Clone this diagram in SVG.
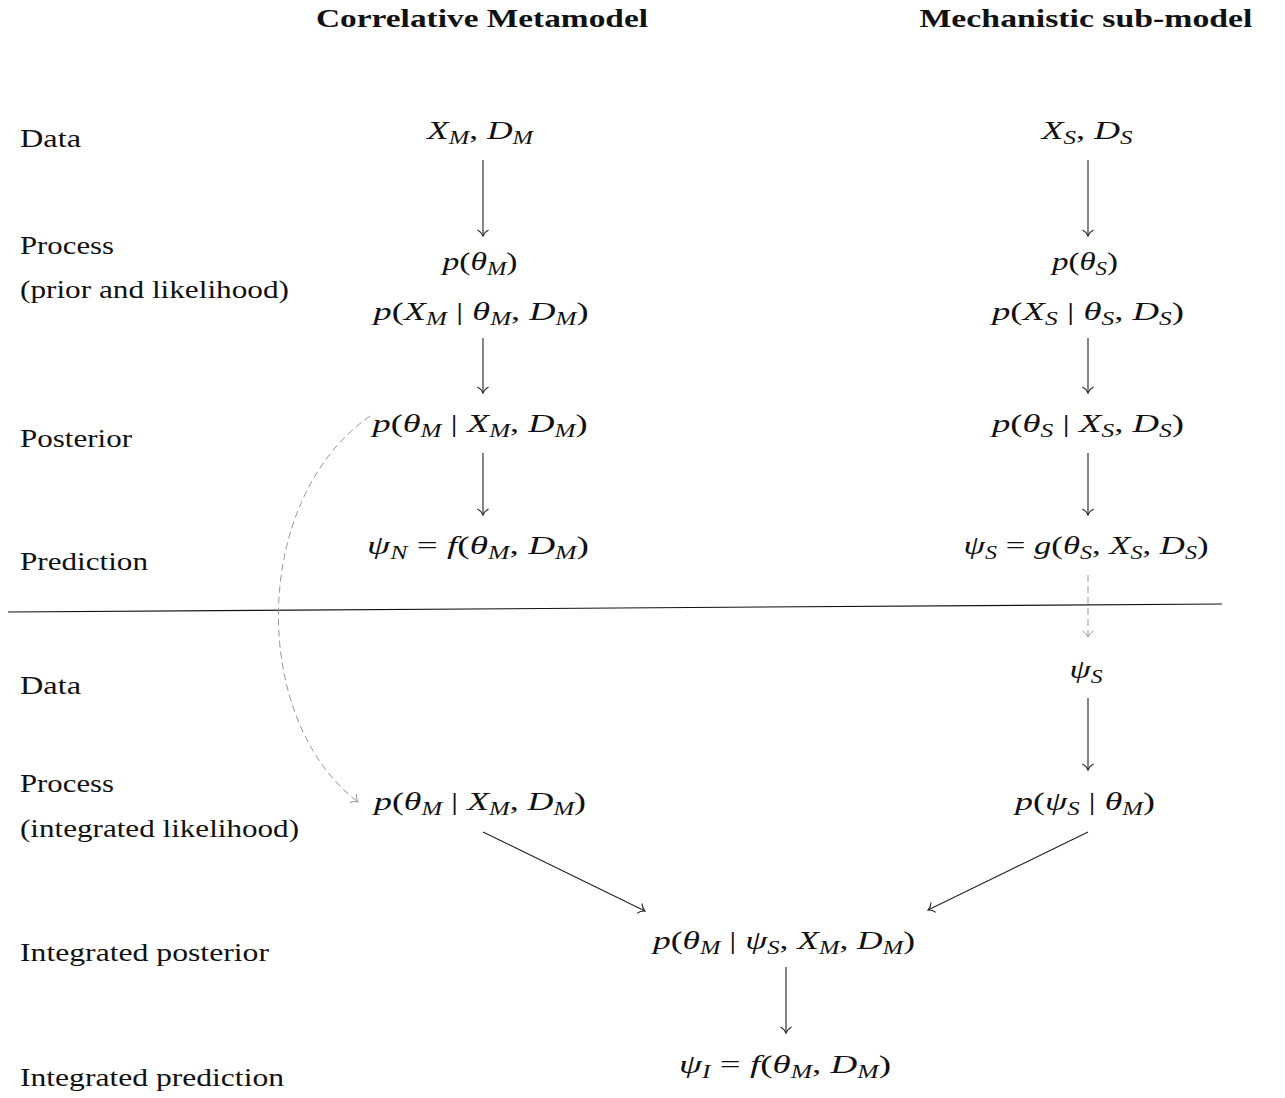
<svg xmlns="http://www.w3.org/2000/svg" width="1285" height="1098" viewBox="0 0 1285 1098">
<style>
text{font-family:"Liberation Serif","DejaVu Serif",serif;fill:#111}
.h{font-size:25px;font-weight:bold}
.lab{font-size:25px}
.m{font-size:26px;font-style:italic}
.u{font-style:normal}
.s{font-size:18px}
.ar{fill:none;stroke:#222;stroke-width:1.1}
.da{fill:none;stroke:#999;stroke-width:1;stroke-dasharray:7 4}
</style>
<defs>
<marker id="to" markerUnits="userSpaceOnUse" orient="auto" refX="0" refY="0" markerWidth="14" markerHeight="14" overflow="visible">
<path d="M -6 -5.5 C -4.5 -2.5 -1.5 -0.6 0 0 C -1.5 0.6 -4.5 2.5 -6 5.5" fill="none" stroke="#222" stroke-width="1.1"/>
</marker>
<marker id="tog" markerUnits="userSpaceOnUse" orient="auto" refX="0" refY="0" markerWidth="14" markerHeight="14" overflow="visible">
<path d="M -6 -5.5 C -4.5 -2.5 -1.5 -0.6 0 0 C -1.5 0.6 -4.5 2.5 -6 5.5" fill="none" stroke="#999" stroke-width="1"/>
</marker>
</defs>

<g id="headers">
<text class="h" x="482" y="27" text-anchor="middle" textLength="332" lengthAdjust="spacingAndGlyphs">Correlative Metamodel</text>
<text class="h" x="1086" y="27" text-anchor="middle" textLength="333" lengthAdjust="spacingAndGlyphs">Mechanistic sub-model</text>
</g>

<g id="row-labels">
<text class="lab" x="20" y="147" textLength="61" lengthAdjust="spacingAndGlyphs">Data</text>
<text class="lab" x="20" y="254" textLength="94" lengthAdjust="spacingAndGlyphs">Process</text>
<text class="lab" x="20" y="298" textLength="269" lengthAdjust="spacingAndGlyphs">(prior and likelihood)</text>
<text class="lab" x="20" y="447" textLength="112" lengthAdjust="spacingAndGlyphs">Posterior</text>
<text class="lab" x="20" y="570" textLength="128" lengthAdjust="spacingAndGlyphs">Prediction</text>
<text class="lab" x="20" y="694" textLength="61" lengthAdjust="spacingAndGlyphs">Data</text>
<text class="lab" x="20" y="792" textLength="94" lengthAdjust="spacingAndGlyphs">Process</text>
<text class="lab" x="20" y="837" textLength="279" lengthAdjust="spacingAndGlyphs">(integrated likelihood)</text>
<text class="lab" x="20" y="961" textLength="249" lengthAdjust="spacingAndGlyphs">Integrated posterior</text>
<text class="lab" x="20" y="1086" textLength="264" lengthAdjust="spacingAndGlyphs">Integrated prediction</text>
</g>

<g id="separator">
<line x1="8" y1="612" x2="1222" y2="604" stroke="#111" stroke-width="1.1"/>
</g>

<g id="n-XM-DM">
<text class="m" x="480" y="139" text-anchor="middle" textLength="106" lengthAdjust="spacingAndGlyphs">X<tspan class="s" dy="5">M</tspan><tspan class="u" dy="-5">,</tspan> D<tspan class="s" dy="5">M</tspan></text>
</g>
<g id="n-prior-likelihood-M">
<text class="m" x="480" y="270" text-anchor="middle" textLength="75" lengthAdjust="spacingAndGlyphs">p<tspan class="u">(</tspan>θ<tspan class="s" dy="5">M</tspan><tspan class="u" dy="-5">)</tspan></text>
<text class="m" x="481" y="320" text-anchor="middle" textLength="215" lengthAdjust="spacingAndGlyphs">p<tspan class="u">(</tspan>X<tspan class="s" dy="5">M</tspan><tspan class="u" dy="-5"> | </tspan>θ<tspan class="s" dy="5">M</tspan><tspan class="u" dy="-5">,</tspan> D<tspan class="s" dy="5">M</tspan><tspan class="u" dy="-5">)</tspan></text>
</g>
<g id="n-posterior-M">
<text class="m" x="480" y="432" text-anchor="middle" textLength="215" lengthAdjust="spacingAndGlyphs">p<tspan class="u">(</tspan>θ<tspan class="s" dy="5">M</tspan><tspan class="u" dy="-5"> | </tspan>X<tspan class="s" dy="5">M</tspan><tspan class="u" dy="-5">,</tspan> D<tspan class="s" dy="5">M</tspan><tspan class="u" dy="-5">)</tspan></text>
</g>
<g id="n-prediction-M">
<text class="m" x="478" y="554" text-anchor="middle" textLength="222" lengthAdjust="spacingAndGlyphs">ψ<tspan class="s" dy="5">N</tspan><tspan class="u" dy="-5"> = </tspan>f<tspan class="u">(</tspan>θ<tspan class="s" dy="5">M</tspan><tspan class="u" dy="-5">,</tspan> D<tspan class="s" dy="5">M</tspan><tspan class="u" dy="-5">)</tspan></text>
</g>

<g id="n-XS-DS">
<text class="m" x="1087" y="139" text-anchor="middle" textLength="91" lengthAdjust="spacingAndGlyphs">X<tspan class="s" dy="5">S</tspan><tspan class="u" dy="-5">,</tspan> D<tspan class="s" dy="5">S</tspan></text>
</g>
<g id="n-prior-likelihood-S">
<text class="m" x="1085" y="270" text-anchor="middle" textLength="66" lengthAdjust="spacingAndGlyphs">p<tspan class="u">(</tspan>θ<tspan class="s" dy="5">S</tspan><tspan class="u" dy="-5">)</tspan></text>
<text class="m" x="1088" y="320" text-anchor="middle" textLength="192" lengthAdjust="spacingAndGlyphs">p<tspan class="u">(</tspan>X<tspan class="s" dy="5">S</tspan><tspan class="u" dy="-5"> | </tspan>θ<tspan class="s" dy="5">S</tspan><tspan class="u" dy="-5">,</tspan> D<tspan class="s" dy="5">S</tspan><tspan class="u" dy="-5">)</tspan></text>
</g>
<g id="n-posterior-S">
<text class="m" x="1088" y="432" text-anchor="middle" textLength="192" lengthAdjust="spacingAndGlyphs">p<tspan class="u">(</tspan>θ<tspan class="s" dy="5">S</tspan><tspan class="u" dy="-5"> | </tspan>X<tspan class="s" dy="5">S</tspan><tspan class="u" dy="-5">,</tspan> D<tspan class="s" dy="5">S</tspan><tspan class="u" dy="-5">)</tspan></text>
</g>
<g id="n-prediction-S">
<text class="m" x="1086" y="554" text-anchor="middle" textLength="245" lengthAdjust="spacingAndGlyphs">ψ<tspan class="s" dy="5">S</tspan><tspan class="u" dy="-5"> = </tspan>g<tspan class="u">(</tspan>θ<tspan class="s" dy="5">S</tspan><tspan class="u" dy="-5">,</tspan> X<tspan class="s" dy="5">S</tspan><tspan class="u" dy="-5">,</tspan> D<tspan class="s" dy="5">S</tspan><tspan class="u" dy="-5">)</tspan></text>
</g>

<g id="n-psiS">
<text class="m" x="1086" y="678" text-anchor="middle" textLength="33" lengthAdjust="spacingAndGlyphs">ψ<tspan class="s" dy="5">S</tspan></text>
</g>
<g id="n-likelihood-psiS">
<text class="m" x="1085" y="810" text-anchor="middle" textLength="140" lengthAdjust="spacingAndGlyphs">p<tspan class="u">(</tspan>ψ<tspan class="s" dy="5">S</tspan><tspan class="u" dy="-5"> | </tspan>θ<tspan class="s" dy="5">M</tspan><tspan class="u" dy="-5">)</tspan></text>
</g>
<g id="n-posterior-M-2">
<text class="m" x="480" y="810" text-anchor="middle" textLength="212" lengthAdjust="spacingAndGlyphs">p<tspan class="u">(</tspan>θ<tspan class="s" dy="5">M</tspan><tspan class="u" dy="-5"> | </tspan>X<tspan class="s" dy="5">M</tspan><tspan class="u" dy="-5">,</tspan> D<tspan class="s" dy="5">M</tspan><tspan class="u" dy="-5">)</tspan></text>
</g>
<g id="n-integrated-posterior">
<text class="m" x="784" y="949" text-anchor="middle" textLength="262" lengthAdjust="spacingAndGlyphs">p<tspan class="u">(</tspan>θ<tspan class="s" dy="5">M</tspan><tspan class="u" dy="-5"> | </tspan>ψ<tspan class="s" dy="5">S</tspan><tspan class="u" dy="-5">,</tspan> X<tspan class="s" dy="5">M</tspan><tspan class="u" dy="-5">,</tspan> D<tspan class="s" dy="5">M</tspan><tspan class="u" dy="-5">)</tspan></text>
</g>
<g id="n-integrated-prediction">
<text class="m" x="785" y="1073" text-anchor="middle" textLength="212" lengthAdjust="spacingAndGlyphs">ψ<tspan class="s" dy="5">I</tspan><tspan class="u" dy="-5"> = </tspan>f<tspan class="u">(</tspan>θ<tspan class="s" dy="5">M</tspan><tspan class="u" dy="-5">,</tspan> D<tspan class="s" dy="5">M</tspan><tspan class="u" dy="-5">)</tspan></text>
</g>

<g id="connectors">
<line class="ar" x1="483" y1="160" x2="483" y2="236" marker-end="url(#to)"/>
<line class="ar" x1="483" y1="338" x2="483" y2="393" marker-end="url(#to)"/>
<line class="ar" x1="483" y1="453" x2="483" y2="515" marker-end="url(#to)"/>
<line class="ar" x1="1088" y1="160" x2="1088" y2="236" marker-end="url(#to)"/>
<line class="ar" x1="1088" y1="338" x2="1088" y2="393" marker-end="url(#to)"/>
<line class="ar" x1="1088" y1="453" x2="1088" y2="515" marker-end="url(#to)"/>
<line class="da" x1="1088" y1="575" x2="1088" y2="637" marker-end="url(#tog)"/>
<line class="ar" x1="1088" y1="698" x2="1088" y2="770" marker-end="url(#to)"/>
<line class="ar" x1="483" y1="832" x2="645" y2="911" marker-end="url(#to)"/>
<line class="ar" x1="1088" y1="832" x2="928" y2="910" marker-end="url(#to)"/>
<line class="ar" x1="786" y1="967" x2="786" y2="1033" marker-end="url(#to)"/>
<path class="da" d="M 370 416 C 250 500 250 720 358 802" marker-end="url(#tog)"/>
</g>
</svg>
